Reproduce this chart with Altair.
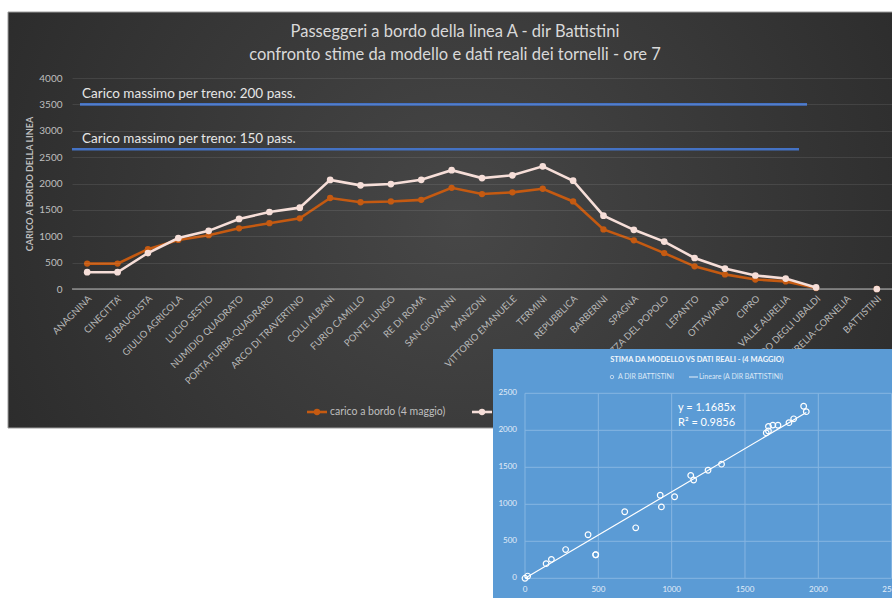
import altair as alt
import pandas as pd

# ---------------- data ----------------
stations = ["ANAGNINA", "CINECITTA'", "SUBAUGUSTA", "GIULIO AGRICOLA", "LUCIO SESTIO",
            "NUMIDIO QUADRATO", "PORTA FURBA-QUADRARO", "ARCO DI TRAVERTINO", "COLLI ALBANI",
            "FURIO CAMILLO", "PONTE LUNGO", "RE DI ROMA", "SAN GIOVANNI", "MANZONI",
            "VITTORIO EMANUELE", "TERMINI", "REPUBBLICA", "BARBERINI", "SPAGNA",
            "FLAMINIO-PIAZZA DEL POPOLO", "LEPANTO", "OTTAVIANO", "CIPRO", "VALLE AURELIA",
            "BALDO DEGLI UBALDI", "AURELIA-CORNELIA", "BATTISTINI"]
carico_4_maggio = [482, 482, 755, 930, 1020, 1150, 1248, 1340, 1725, 1645, 1660, 1690, 1918, 1800,
                   1832, 1900, 1660, 1130, 922, 680, 430, 277, 180, 144, 18, None, 0]
stima_modello = [318, 318, 682, 965, 1102, 1328, 1460, 1542, 2068, 1965, 1990, 2070, 2252, 2103,
                 2155, 2325, 2053, 1390, 1122, 899, 588, 388, 256, 198, 30, None, 0]
series_names = ["carico a bordo (4 maggio)", "stima da modello (4 maggio)"]
series_colors = ["#c55a11", "#f6ded8"]

capacity_values = [3500, 2650]
capacity_labels = ["Carico massimo per treno: 200 pass.", "Carico massimo per treno: 150 pass."]

y_ticks_main = [0, 500, 1000, 1500, 2000, 2500, 3000, 3500, 4000]
inset_ticks = [0, 500, 1000, 1500, 2000, 2500]
trend_slope = 1.1685
trend_label = ["y = 1.1685x", "R² = 0.9856"]

title_lines = ["Passeggeri a bordo della linea A - dir Battistini",
               "confronto stime da modello e dati reali dei tornelli - ore 7"]
inset_title = "STIMA DA MODELLO VS DATI REALI - (4 MAGGIO)"
inset_legend = ["A DIR BATTISTINI", "Lineare (A DIR BATTISTINI)"]

FONT = "Lato"

# ---------------- tables ----------------
rows = []
for name, vals in zip(series_names, [carico_4_maggio, stima_modello]):
    seg = 0
    for st, v in zip(stations, vals):
        if v is None:
            seg += 1
            continue
        rows.append({"station": st, "series": name, "value": v, "seg": seg})
df_lines = pd.DataFrame(rows)
df_st = pd.DataFrame({"station": stations})
df_cap = pd.DataFrame({"cap": capacity_values, "label": capacity_labels})
df_one = pd.DataFrame({"a": [0]})

df_sc = pd.DataFrame({"model": carico_4_maggio, "real": stima_modello}).dropna()
xmax = float(df_sc["model"].max())
df_tr = pd.DataFrame({"model": [0.0, xmax], "real": [0.0, xmax * trend_slope]})
df_it = pd.DataFrame({"t": inset_ticks, "lo": [0] * len(inset_ticks), "hi": [2500] * len(inset_ticks)})

# ---------------- main chart ----------------
xs = alt.Scale(type="point", padding=0.5, domain=stations)
ys = alt.Scale(domain=[0, 4000], nice=False, zero=True)
yaxis = alt.Axis(values=y_ticks_main, format="d", labelColor="#bfbfbf", labelFont=FONT,
                 labelFontSize=10, labelPadding=10, domain=False, ticks=False, grid=True,
                 gridColor="#ffffff", gridOpacity=0.09, gridWidth=1, zindex=1,
                 title="CARICO A BORDO DELLA LINEA", titleColor="#bfbfbf", titleFont=FONT,
                 titleFontSize=9, titleFontWeight="bold", titleAngle=270, titleX=-43,
                 titleY=105.5, titleAlign="center", titleBaseline="middle")

X = alt.X("station:N", scale=xs, axis=None)
Y = alt.Y("value:Q", scale=ys, axis=yaxis)

panel = alt.Chart(df_one).mark_rect(
    fill=alt.RadialGradient(gradient="radial",
                            stops=[alt.GradientStop(offset=0, color="#474747"),
                                   alt.GradientStop(offset=1, color="#242424")],
                            x1=0.5, y1=0.5, x2=0.5, y2=0.5, r1=0, r2=0.72),
    stroke="#9c9c9c", strokeWidth=1
).encode(x=alt.value(-64), x2=alt.value(840), y=alt.value(-66), y2=alt.value(350))

base0 = alt.Chart(df_one).mark_rule(color="#8c8c8c", strokeWidth=1.3).encode(
    x=alt.value(0), x2=alt.value(820), y=alt.Y("a:Q", scale=ys, axis=yaxis))

cap_layers = []
for i, (xa, xb) in enumerate([(8, 735), (0, 727)]):
    d = df_cap.iloc[[i]]
    cap_layers.append(alt.Chart(d).mark_rule(color="#4472c4", strokeWidth=2.6).encode(
        x=alt.value(xa), x2=alt.value(xb), y=alt.Y("cap:Q", scale=ys, axis=yaxis)))
    cap_layers.append(alt.Chart(d).mark_text(font=FONT, fontSize=13.5, color="#e6e6e6",
                                             align="left", baseline="bottom", dy=-3).encode(
        x=alt.value(10), y=alt.Y("cap:Q", scale=ys, axis=yaxis), text="label:N"))

xlabels = alt.Chart(df_st).mark_text(font=FONT, fontSize=9.5, color="#b8b8b8", angle=315,
                                     align="right", baseline="middle", dx=4).encode(
    x=X, y=alt.value(222), text="station:N")

series_layers = []
for name, col, psize in zip(series_names, series_colors, [40, 45]):
    d = df_lines[df_lines.series == name]
    series_layers.append(alt.Chart(d).mark_line(color=col, strokeWidth=2.6).encode(
        x=X, y=Y, detail="seg:N"))
    series_layers.append(alt.Chart(d).mark_circle(color=col, size=psize, opacity=1).encode(
        x=X, y=Y))

# manual legend (drawn beneath the inset)
leg_layers = []
for name, col, x0 in zip(series_names, series_colors, [235, 400]):
    dl = pd.DataFrame({"label": [name]})
    leg_layers.append(alt.Chart(dl).mark_rule(color=col, strokeWidth=2.6).encode(
        x=alt.value(x0), x2=alt.value(x0 + 20), y=alt.value(334)))
    leg_layers.append(alt.Chart(dl).mark_circle(color=col, size=40, opacity=1).encode(
        x=alt.value(x0 + 10), y=alt.value(334)))
    leg_layers.append(alt.Chart(dl).mark_text(font=FONT, fontSize=10.5, color="#bfbfbf",
                                              align="left", baseline="middle").encode(
        x=alt.value(x0 + 23), y=alt.value(334), text="label:N"))

title_layers = []
for line, yy in zip(title_lines, [-46, -23]):
    title_layers.append(alt.Chart(pd.DataFrame({"t": [line]})).mark_text(
        font=FONT, fontSize=16.5, color="#d9d9d9", align="center", baseline="middle").encode(
        x=alt.value(383), y=alt.value(yy), text="t:N"))

main = alt.layer(panel, base0, *cap_layers, xlabels, *series_layers, *leg_layers, *title_layers)

# ---------------- inset chart ----------------
isx = alt.Scale(domain=[0, 2500], range=[453, 819.65], nice=False, zero=False)
isy = alt.Scale(domain=[0, 2500], range=[500.3, 315.3], nice=False, zero=False)

inset_bg = alt.Chart(df_one).mark_rect(fill="#5b9bd5").encode(
    x=alt.value(421), x2=alt.value(840), y=alt.value(271), y2=alt.value(540))

hgrid = alt.Chart(df_it).mark_rule(color="#86b6e2", strokeWidth=1).encode(
    x=alt.X("lo:Q", scale=isx, axis=None), x2="hi:Q", y=alt.Y("t:Q", scale=isy, axis=None))
vgrid = alt.Chart(df_it).mark_rule(color="#86b6e2", strokeWidth=1).encode(
    x=alt.X("t:Q", scale=isx, axis=None), y=alt.Y("lo:Q", scale=isy, axis=None), y2="hi:Q")

iylab = alt.Chart(df_it).mark_text(font=FONT, fontSize=8, color="#e3edf8", align="right",
                                   baseline="middle").encode(
    x=alt.value(445), y=alt.Y("t:Q", scale=isy, axis=None), text="t:Q")
ixlab = alt.Chart(df_it).mark_text(font=FONT, fontSize=8, color="#e3edf8", align="center",
                                   baseline="middle").encode(
    x=alt.X("t:Q", scale=isx, axis=None), y=alt.value(512), text="t:Q")

trend = alt.Chart(df_tr).mark_line(color="#ffffff", strokeWidth=1.2).encode(
    x=alt.X("model:Q", scale=isx, axis=None), y=alt.Y("real:Q", scale=isy, axis=None))
scatter = alt.Chart(df_sc).mark_point(shape="circle", filled=False, color="#ffffff", size=32,
                                      strokeWidth=1.2, opacity=1).encode(
    x=alt.X("model:Q", scale=isx, axis=None), y=alt.Y("real:Q", scale=isy, axis=None))

ititle = alt.Chart(pd.DataFrame({"t": [inset_title]})).mark_text(
    font=FONT, fontSize=7.5, fontWeight="bold", color="#f2f7fc", align="center",
    baseline="middle").encode(x=alt.value(625), y=alt.value(282), text="t:N")

ileg = [
    alt.Chart(df_one).mark_point(shape="circle", filled=False, color="#e8f0f9", size=12,
                                 strokeWidth=1).encode(x=alt.value(540), y=alt.value(299)),
    alt.Chart(pd.DataFrame({"t": [inset_legend[0]]})).mark_text(
        font=FONT, fontSize=7, color="#dce8f5", align="left", baseline="middle").encode(
        x=alt.value(546), y=alt.value(299), text="t:N"),
    alt.Chart(df_one).mark_rule(color="#e8f0f9", strokeWidth=1).encode(
        x=alt.value(617), x2=alt.value(626), y=alt.value(299)),
    alt.Chart(pd.DataFrame({"t": [inset_legend[1]]})).mark_text(
        font=FONT, fontSize=7, color="#dce8f5", align="left", baseline="middle").encode(
        x=alt.value(627), y=alt.value(299), text="t:N"),
]

ieq = []
for line, yy in zip(trend_label, [330, 345]):
    ieq.append(alt.Chart(pd.DataFrame({"t": [line]})).mark_text(
        font=FONT, fontSize=11, color="#ffffff", align="left", baseline="middle").encode(
        x=alt.value(606), y=alt.value(yy), text="t:N"))

inset = alt.layer(inset_bg, hgrid, vgrid, iylab, ixlab, trend, scatter, ititle, *ileg, *ieq)

chart = alt.layer(main, inset).resolve_scale(x="independent", y="independent").properties(
    width=820, height=211,
    padding={"left": 72, "top": 78, "right": 0, "bottom": 309},
    autosize=alt.AutoSizeParams(type="none"),
    background="#ffffff",
).configure_view(stroke=None)

chart.save("out.html", embed_options={"renderer": "svg", "actions": False})
